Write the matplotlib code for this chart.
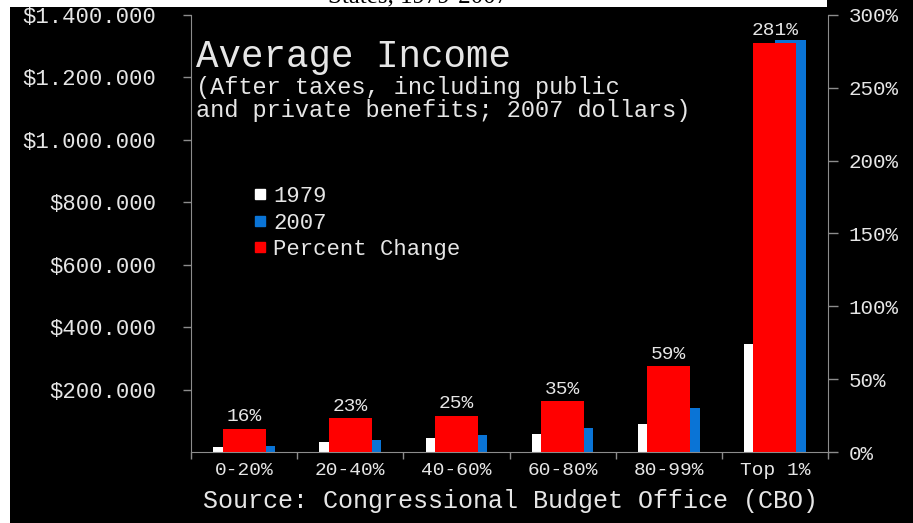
import matplotlib
matplotlib.use("Agg")
import matplotlib.pyplot as plt
from matplotlib.lines import Line2D
from matplotlib.patches import Rectangle
from matplotlib.ticker import FuncFormatter, FixedLocator, NullFormatter
import numpy as np

categories = ["0-20%", "20-40%", "40-60%", "60-80%", "80-99%", "Top 1%"]
income_1979 = [15300, 31000, 44100, 57100, 88800, 346600]
income_2007 = [17700, 38000, 55300, 77700, 141200, 1319700]
pct_change = [16, 23, 25, 35, 59, 281]
left_ticks = [200000, 400000, 600000, 800000, 1000000, 1200000, 1400000]
right_ticks = [0, 50, 100, 150, 200, 250, 300]

W, H = 913, 523
FONT = "Liberation Mono"
TXT = "#e6e6e6"
GRAY = "#8c8c8c"

fig = plt.figure(figsize=(W / 100, H / 100), dpi=100, facecolor="black")

# white strips (page edges)
fig.patches.append(Rectangle((0, 1 - 7 / H), 827 / W, 7 / H, transform=fig.transFigure,
                             facecolor="white", edgecolor="none", zorder=0))
fig.patches.append(Rectangle((0, 0), 10 / W, 1, transform=fig.transFigure,
                             facecolor="white", edgecolor="none", zorder=0))
fig.text(418 / W, 1 + 4 / H, "States, 1979-2007", family="Liberation Serif",
         fontsize=18, color="black", ha="center", va="center")

x0, x1 = 191, 828
y0, y1 = 452, 15
ax = fig.add_axes([x0 / W, (H - y0) / H, (x1 - x0) / W, (y0 - y1) / H])
ax.set_facecolor("black")
x = np.arange(len(categories))
bw = 0.29
ax.bar(x - bw / 2, income_1979, width=bw, color="white", zorder=2)
ax.bar(x + bw / 2, income_2007, width=bw, color="#0a74d6", zorder=2)
ax.set_xlim(-0.5, len(categories) - 0.5)
ax.set_ylim(0, 1400000)

ax2 = ax.twinx()
ax2.bar(x, pct_change, width=0.405, color="#ff0000", zorder=3)
ax2.set_ylim(0, 300)
for xi, p in zip(x, pct_change):
    ax2.annotate(f"{p}%", (xi, p), xytext=(0, 2.5), textcoords="offset points",
                 ha="center", va="bottom", family=FONT, fontsize=14, color=TXT)

for s in ["top", "right"]:
    ax.spines[s].set_visible(False)
for s in ["left", "bottom"]:
    ax.spines[s].set_color(GRAY)
for s in ["top", "left", "bottom"]:
    ax2.spines[s].set_visible(False)
ax2.spines["right"].set_color(GRAY)

ax.yaxis.set_major_locator(FixedLocator(left_ticks))
ax.yaxis.set_major_formatter(FuncFormatter(lambda v, p: "$" + f"{int(v):,}".replace(",", ".")))
ax.tick_params(axis="y", colors=GRAY, length=6, width=1, labelcolor=TXT, pad=19,
               labelsize=16)
for lab in ax.get_yticklabels():
    lab.set_family(FONT)

ax2.yaxis.set_major_locator(FixedLocator(right_ticks))
ax2.yaxis.set_major_formatter(FuncFormatter(lambda v, p: f"{int(v)}%"))
ax2.tick_params(axis="y", colors=GRAY, length=7, width=1, labelcolor=TXT, pad=8,
                labelsize=15)
for lab in ax2.get_yticklabels():
    lab.set_family(FONT)

ax.xaxis.set_major_locator(FixedLocator(np.arange(-0.5, len(categories), 1.0)))
ax.xaxis.set_major_formatter(NullFormatter())
ax.xaxis.set_minor_locator(FixedLocator(x))
ax.set_xticklabels(categories, minor=True)
ax.tick_params(axis="x", which="major", colors=GRAY, length=5, width=1)
ax.tick_params(axis="x", which="minor", length=0, pad=7, labelcolor=TXT, labelsize=14)
for lab in ax.get_xticklabels(minor=True):
    lab.set_family(FONT)

# title block
fig.text(196 / W, 1 - 57 / H, "Average Income", family=FONT, fontsize=27,
         color=TXT, ha="left", va="center")
fig.text(196 / W, 1 - 99 / H, "(After taxes, including public\nand private benefits; 2007 dollars)",
         family=FONT, fontsize=17, color=TXT, ha="left", va="center", linespacing=1.05)

handles = [Line2D([], [], marker="s", linestyle="none", markersize=7, color=c)
           for c in ["white", "#0a74d6", "#ff0000"]]
leg = fig.legend(handles, ["1979", "2007", "Percent Change"], loc="upper left",
                 bbox_to_anchor=(253 / W, 1 - 186 / H), frameon=False,
                 prop={"family": FONT, "size": 16}, labelcolor=TXT,
                 handlelength=0.6, handletextpad=0.3, labelspacing=0.25,
                 borderpad=0, borderaxespad=0)

fig.text(203 / W, 1 - 501 / H, "Source: Congressional Budget Office (CBO)",
         family=FONT, fontsize=18, color=TXT, ha="left", va="center")

fig.savefig("out.png", dpi=100, facecolor="black")
